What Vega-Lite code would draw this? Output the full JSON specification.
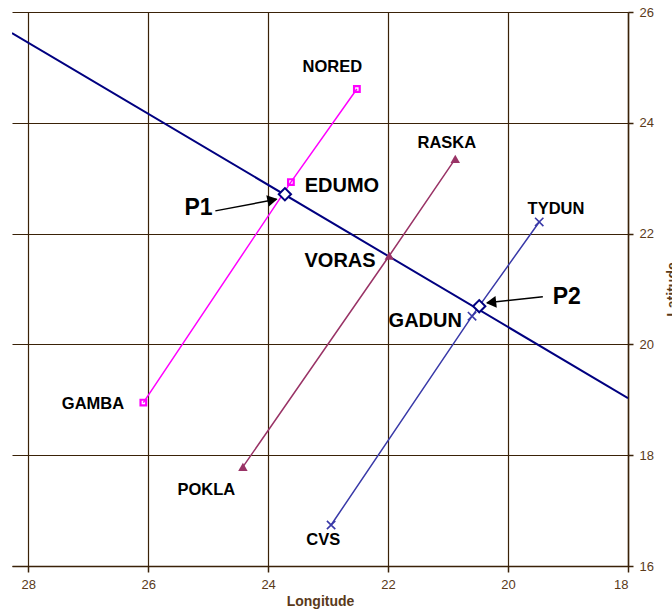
{
  "$schema": "https://vega.github.io/schema/vega-lite/v6.json",
  "autosize": {"type": "none"},
  "padding": {"left": 12, "top": 12, "right": 44, "bottom": 46},
  "width": 616,
  "height": 554,
  "background": "white",
  "config": {
    "view": {"stroke": null},
    "font": "Liberation Sans",
    "axis": {
      "labelFont": "Liberation Sans",
      "labelFontSize": 13,
      "labelColor": "#5a3a1a",
      "titleFont": "Liberation Sans",
      "titleFontSize": 14,
      "titleFontWeight": "bold",
      "titleColor": "#5a3a1a",
      "domainColor": "#3a2208",
      "domainWidth": 1.5,
      "tickColor": "#3a2208",
      "tickWidth": 1.5,
      "gridColor": "#3a2208",
      "gridOpacity": 1,
      "gridWidth": 1.2
    }
  },
  "datasets": {
    "stations": [
      {"name": "NORED", "lon": 22.52, "lat": 24.61, "line": "A"},
      {"name": "EDUMO", "lon": 23.62, "lat": 22.93, "line": "A"},
      {"name": "GAMBA", "lon": 26.08, "lat": 18.95, "line": "A"},
      {"name": "RASKA", "lon": 20.88, "lat": 23.35, "line": "B"},
      {"name": "VORAS", "lon": 21.98, "lat": 21.60, "line": "B"},
      {"name": "POKLA", "lon": 24.42, "lat": 17.79, "line": "B"},
      {"name": "TYDUN", "lon": 19.48, "lat": 22.21, "line": "C"},
      {"name": "GADUN", "lon": 20.60, "lat": 20.51, "line": "C"},
      {"name": "CVS", "lon": 22.95, "lat": 16.74, "line": "C"}
    ],
    "bearing": [
      {"lon": 28.27, "lat": 25.62},
      {"lon": 18.0, "lat": 19.03}
    ],
    "fixes": [
      {"name": "P1", "lon": 23.72, "lat": 22.71},
      {"name": "P2", "lon": 20.48, "lat": 20.69}
    ],
    "arrows": [
      {"name": "P1", "lon": 24.88, "lat": 22.41, "lon2": 23.86, "lat2": 22.62},
      {"name": "P2", "lon": 19.42, "lat": 20.86, "lon2": 20.35, "lat2": 20.75}
    ],
    "minorLabels": [
      {"text": "NORED", "lon": 22.93, "lat": 25.01},
      {"text": "RASKA", "lon": 21.02, "lat": 23.64},
      {"text": "TYDUN", "lon": 19.2, "lat": 22.44},
      {"text": "GAMBA", "lon": 26.92, "lat": 18.92},
      {"text": "POKLA", "lon": 25.03, "lat": 17.37},
      {"text": "CVS", "lon": 23.08, "lat": 16.47}
    ],
    "majorLabels": [
      {"text": "EDUMO", "lon": 22.77, "lat": 22.86},
      {"text": "VORAS", "lon": 22.8, "lat": 21.51},
      {"text": "GADUN", "lon": 21.38, "lat": 20.42}
    ],
    "fixLabels": [
      {"text": "P1", "lon": 25.16, "lat": 22.46},
      {"text": "P2", "lon": 19.02, "lat": 20.85}
    ]
  },
  "encoding": {
    "x": {
      "field": "lon", "type": "quantitative",
      "scale": {"domain": [18, 28.27], "reverse": true, "nice": false, "zero": false},
      "axis": {
        "orient": "bottom", "values": [18, 20, 22, 24, 26, 28], "grid": true,
        "tickSize": 6, "labelPadding": 6, "titlePadding": 3, "title": "Longitude"
      }
    },
    "y": {
      "field": "lat", "type": "quantitative",
      "scale": {"domain": [16, 26], "nice": false, "zero": false},
      "axis": {
        "orient": "right", "values": [16, 18, 20, 22, 24, 26], "grid": true,
        "tickSize": 5, "labelPadding": 6, "title": "Latitude",
        "titleAngle": 270, "titleX": 37, "titleY": 277, "titleBaseline": "top", "titleAlign": "center"
      }
    }
  },
  "layer": [
    {
      "data": {"name": "bearing"},
      "mark": {"type": "line", "color": "#000080", "strokeWidth": 2, "clip": true},
      "encoding": {}
    },
    {
      "data": {"name": "stations"},
      "mark": {"type": "line", "strokeWidth": 1.5},
      "encoding": {
        "color": {
          "field": "line", "type": "nominal", "legend": null,
          "scale": {"domain": ["A", "B", "C"], "range": ["#ff00ff", "#993366", "#3939a8"]}
        }
      }
    },
    {
      "data": {"name": "stations"},
      "transform": [{"filter": "datum.line === 'A'"}],
      "mark": {"type": "point", "shape": "square", "filled": false, "stroke": "#ff00ff", "strokeWidth": 2.2, "size": 32, "opacity": 1},
      "encoding": {}
    },
    {
      "data": {"name": "stations"},
      "transform": [{"filter": "datum.line === 'B'"}],
      "mark": {"type": "point", "shape": "triangle-up", "filled": true, "color": "#993366", "size": 90, "opacity": 1},
      "encoding": {}
    },
    {
      "data": {"name": "stations"},
      "transform": [{"filter": "datum.line === 'C'"}],
      "mark": {"type": "point", "shape": "M-1,-1L1,1M-1,1L1,-1", "filled": false, "stroke": "#3939a8", "strokeWidth": 1.6, "size": 70, "opacity": 1},
      "encoding": {}
    },
    {
      "data": {"name": "fixes"},
      "mark": {"type": "point", "shape": "diamond", "filled": true, "fill": "white", "stroke": "#000080", "strokeWidth": 2, "size": 150, "opacity": 1},
      "encoding": {}
    },
    {
      "data": {"name": "arrows"},
      "mark": {"type": "rule", "color": "black", "strokeWidth": 1.5},
      "encoding": {
        "x2": {"field": "lon2"},
        "y2": {"field": "lat2"}
      }
    },
    {
      "data": {"name": "arrows"},
      "transform": [{"filter": "datum.name === 'P1'"}],
      "mark": {"type": "point", "shape": "triangle-right", "filled": true, "color": "black", "size": 140, "angle": 348.7, "opacity": 1, "xOffset": -4, "yOffset": 0.8},
      "encoding": {
        "x": {"field": "lon2", "type": "quantitative"},
        "y": {"field": "lat2", "type": "quantitative"}
      }
    },
    {
      "data": {"name": "arrows"},
      "transform": [{"filter": "datum.name === 'P2'"}],
      "mark": {"type": "point", "shape": "triangle-right", "filled": true, "color": "black", "size": 140, "angle": 173.8, "opacity": 1, "xOffset": 4, "yOffset": -0.4},
      "encoding": {
        "x": {"field": "lon2", "type": "quantitative"},
        "y": {"field": "lat2", "type": "quantitative"}
      }
    },
    {
      "data": {"name": "minorLabels"},
      "mark": {"type": "text", "font": "Liberation Sans", "fontWeight": "bold", "fontSize": 16.5, "color": "black", "align": "center", "baseline": "middle"},
      "encoding": {"text": {"field": "text"}}
    },
    {
      "data": {"name": "majorLabels"},
      "mark": {"type": "text", "font": "Liberation Sans", "fontWeight": "bold", "fontSize": 20, "color": "black", "align": "center", "baseline": "middle"},
      "encoding": {"text": {"field": "text"}}
    },
    {
      "data": {"name": "fixLabels"},
      "mark": {"type": "text", "font": "Liberation Sans", "fontWeight": "bold", "fontSize": 23, "color": "black", "align": "center", "baseline": "middle"},
      "encoding": {"text": {"field": "text"}}
    }
  ]
}
